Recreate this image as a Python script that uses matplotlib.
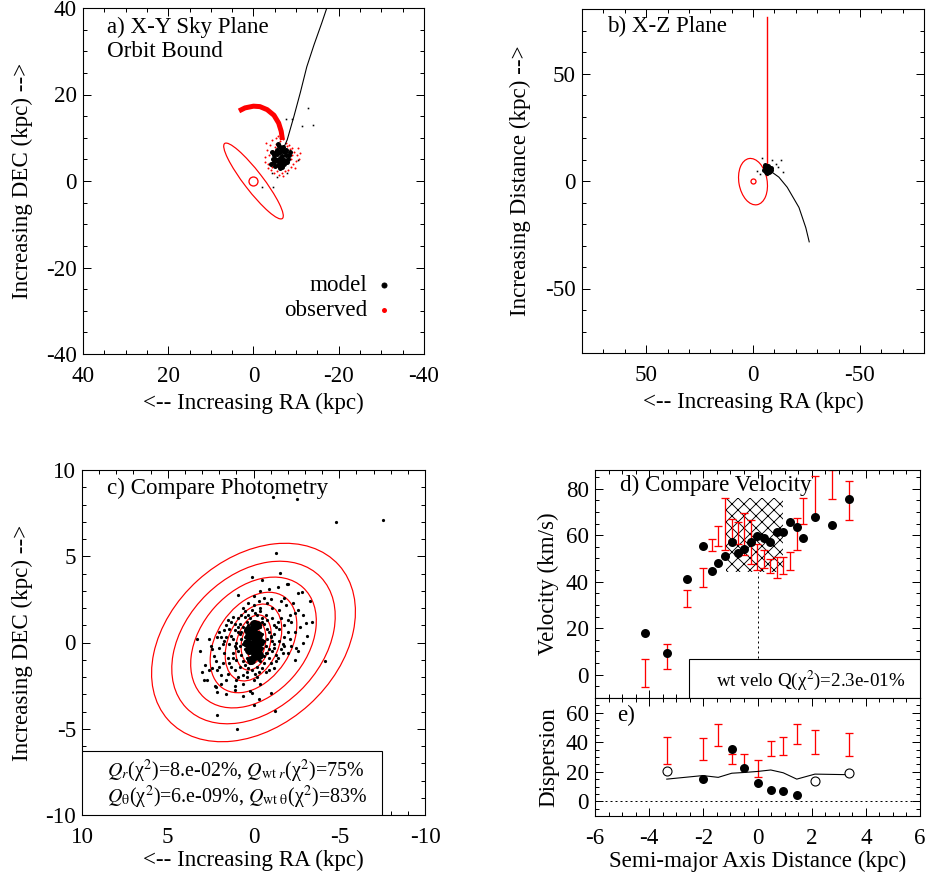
import numpy as np
import matplotlib
matplotlib.use('Agg')
import matplotlib.pyplot as plt
from matplotlib.patches import Ellipse, Rectangle
from matplotlib.ticker import MultipleLocator

plt.rcParams['font.family'] = ['Liberation Serif', 'DejaVu Serif']
plt.rcParams['mathtext.fontset'] = 'stix'
plt.rcParams['font.size'] = 23
plt.rcParams['axes.unicode_minus'] = False
plt.rcParams['hatch.linewidth'] = 0.9

# ---- a) sky plane: model particles, observed stars, orbit ----
a_model = [(-6.4, 5.6), (-5.6, 6.3), (-7.2, 4.9), (-6.0, 4.4), (-6.9, 6.9), (-5.1, 5.1),
           (-7.7, 6.0), (-6.5, 7.6), (-5.8, 3.7), (-7.1, 4.0), (-4.7, 5.9), (-8.1, 5.2),
           (-6.2, 6.7), (-5.4, 7.2), (-6.8, 3.3), (-4.9, 4.3), (-7.6, 7.1), (-5.2, 6.8),
           (-6.6, 4.6), (-5.9, 5.2), (-7.3, 6.6), (-6.3, 2.9), (-8.3, 5.9), (-4.4, 6.6),
           (-6.0, 8.2), (-7.4, 4.3), (-5.0, 3.5), (-6.7, 5.8), (-5.5, 4.8), (-7.9, 4.5),
           (-4.6, 5.0), (-6.1, 3.9), (-7.0, 7.8), (-5.7, 8.6), (-8.5, 6.8), (-4.2, 4.0)]
a_model_out = [(-12.9, 16.9), (-9.0, 14.3), (-7.6, 14.3), (-11.3, 12.7), (-14.0, 12.9),
               (-6.2, 9.9), (-10.5, 4.9), (-7.8, 1.9), (-5.4, 1.0), (-1.9, -1.5),
               (-4.6, -1.3), (-4.3, 1.8)]
a_obs = [(-2.8, 5.5), (-3.2, 7.2), (-3.5, 4.0), (-3.9, 8.3), (-4.1, 2.6), (-4.4, 9.4),
         (-4.8, 1.9), (-5.0, 7.9), (-5.3, 9.9), (-5.6, 2.3), (-5.9, 1.5), (-6.2, 9.2),
         (-6.6, 1.8), (-7.0, 9.6), (-7.3, 2.2), (-7.6, 8.9), (-8.0, 2.6), (-8.3, 8.3),
         (-8.7, 3.2), (-9.0, 7.6), (-9.3, 3.9), (-9.6, 6.8), (-9.9, 4.6), (-10.2, 5.9),
         (-10.6, 5.1), (-11.0, 6.4), (-3.6, 5.9), (-4.3, 3.3), (-4.6, 7.0), (-8.8, 5.0),
         (-9.1, 6.1), (-8.5, 7.3), (-7.9, 8.0), (-5.2, 8.6), (-4.0, 6.8), (-3.3, 3.1),
         (-10.4, 7.6), (-9.8, 3.0), (-6.9, 1.2), (-5.8, 10.3), (-3.0, 8.8), (-2.6, 4.4)]
a_orbit_x = [-7.0, -7.9, -9.5, -11.0, -12.5, -14.2, -16.0, -17.2, -18.0]
a_orbit_y = [7.5, 9.5, 15.0, 20.5, 26.4, 31.5, 36.5, 40.0, 42.0]
a_arc_x = [3.4, 2.0, 0.0, -1.5, -3.2, -4.8, -5.9, -6.5, -6.8]
a_arc_y = [16.2, 16.9, 17.3, 17.2, 16.5, 15.2, 13.4, 11.5, 9.5]
a_ell = dict(a=11.0, b=2.2, pa=52.0)

# ---- b) X-Z plane ----
b_model = [(-6.6, 5.6), (-5.4, 6.4), (-7.8, 4.8), (-6.0, 4.2), (-7.2, 7.0), (-5.0, 5.0),
           (-8.3, 6.2), (-6.5, 3.6), (-6.9, 6.4), (-5.7, 7.3), (-7.5, 4.0), (-8.6, 5.0),
           (-4.3, 10.8), (-9.0, 9.9), (-12.9, 9.6), (-10.6, 8.0), (-11.6, 6.5),
           (-14.2, 4.1), (-1.9, 4.6), (-3.5, 3.3), (-8.2, 4.1)]
b_orbit_x = [-6.6, -8.2, -12.1, -16.0, -21.5, -24.7, -26.3]
b_orbit_y = [5.5, 4.6, 1.8, -2.9, -12.3, -21.7, -28.3]
b_los_x = [-6.6, -6.6]
b_los_y = [3.0, 76.5]
b_ell = dict(a=10.9, b=6.6, pa=80.0, y0=-0.3)

# ---- c) photometry ----
c_core = [(0.0, 0.0), (0.25, 0.4), (-0.25, 0.45), (0.25, -0.45), (-0.25, -0.4),
          (0.05, 0.8), (-0.1, -0.8), (0.35, 0.0), (-0.35, 0.05), (0.15, -0.2),
          (-0.15, 0.2), (-0.2, 1.0), (0.15, -1.0), (0.3, 0.7), (-0.3, -0.7),
          (0.0, 0.5), (0.0, -0.5), (-0.05, 1.1)]
c_cloud = [(1.2, 1.5), (0.6, 2.0), (-0.3, 2.4), (-1.1, 2.0), (-1.6, 1.4), (-2.0, 0.6),
           (-1.8, -0.2), (-1.4, -0.9), (-0.9, -1.6), (-0.2, -2.0), (0.6, -1.9), (1.3, -1.4),
           (1.7, -0.6), (1.9, 0.3), (1.6, 1.0), (0.5, 1.8), (-0.7, 1.6), (-1.3, 0.9),
           (-1.5, 0.1), (-1.1, -0.5), (-0.6, -1.2), (0.3, -1.5), (1.0, -1.0), (1.4, -0.1),
           (1.1, 0.7), (2.3, -0.8), (2.6, 0.2), (2.0, 0.6), (0.3, 2.3), (-0.4, 3.0),
           (-0.9, 3.1), (-1.8, 2.6), (-2.4, 1.7), (-2.7, 0.9), (-2.5, -0.3), (-2.0, -0.6),
           (-1.2, -1.5), (-0.4, -2.4), (0.2, -2.8), (1.1, -2.5), (1.9, -1.9), (2.4, -1.5),
           (-2.3, 2.3), (-2.9, 1.6), (-3.1, 0.4), (-2.9, 0.0), (2.8, -1.3), (2.5, -0.2),
           (1.5, 1.3), (0.0, 2.7), (-1.4, 3.2), (-2.0, 3.4), (0.6, -3.1), (-0.3, -3.3),
           (1.6, -3.0), (2.2, -2.6), (0.9, 0.6), (-0.8, 0.8), (0.7, -0.7), (-0.9, -0.4),
           (1.0, 0.0), (-1.0, 0.3), (0.4, 1.2), (-0.4, -1.1), (0.6, 0.9), (-0.5, 1.2),
           (0.2, -1.2), (-0.2, 1.6), (1.3, 0.4), (-1.2, -0.1), (-3.3, 2.4), (-2.8, 2.9),
           (-3.4, 1.2), (3.1, -0.5), (2.7, -2.2), (0.9, 1.4), (-0.5, 3.6), (-1.0, -2.9),
           (0.0, -3.6), (3.3, 0.2), (0.7, 0.2), (-0.7, -0.2), (0.5, -0.4), (-0.5, 0.5),
           (0.9, -0.5), (-0.9, 0.6), (1.2, -0.6), (-1.2, 0.5), (0.8, 1.1), (-0.6, -0.8),
           (0.2, 1.4), (-0.2, -1.4), (1.5, -0.9), (-1.5, 0.8), (0.4, -0.9), (-0.4, 0.9),
           (1.1, -1.6), (-1.1, 1.4), (1.8, -1.2), (-1.8, 1.0), (2.0, -0.3), (-2.1, 0.2),
           (0.9, -2.0), (-0.8, 2.3), (1.6, 0.3), (-1.6, -0.4), (2.2, -1.1), (-2.2, 1.2),
           (0.1, 1.9), (-0.1, -1.8), (1.3, 1.2), (-1.3, -1.1), (0.6, -2.4), (-0.6, 2.6),
           (2.6, -1.6), (-2.6, 1.9), (1.9, -2.4), (-1.9, 2.2), (0.8, 0.5), (-0.8, -0.6),
           (0.5, 0.3), (-0.5, -0.3), (0.6, -0.1), (-0.6, 0.1), (0.7, 0.6), (-0.7, -0.6),
           (0.4, 0.7), (-0.4, -0.7), (0.8, -0.2), (-0.8, 0.2), (0.5, 1.5), (-0.5, -1.5),
           (0.3, 1.0), (-0.3, -1.0), (1.0, -0.3), (-1.0, 0.4), (0.6, -1.1), (-0.6, 1.1),
           (1.2, 0.2), (-1.2, -0.3), (0.9, 0.9), (-0.9, -0.9), (0.1, -1.6), (-0.1, 1.7),
           (1.4, -1.2), (-1.4, 1.2), (0.7, 1.6), (-0.7, -1.7), (1.7, 0.7), (-1.7, -0.6),
           (0.4, -2.0), (-0.4, 2.0), (2.1, -1.6), (-2.1, 1.6), (1.1, 1.1), (-1.0, -1.2),
           (0.2, 0.8), (-0.2, -0.7), (1.8, -0.1), (-1.8, 0.3),
           (1.5, -1.8), (-1.5, 1.9), (1.0, -2.2), (-1.0, 2.5), (2.0, -1.4), (-2.0, 1.3),
           (0.4, -1.7), (-0.4, 1.8), (1.2, -0.9), (-1.2, 1.0), (2.4, -0.4), (-2.4, 0.6),
           (0.8, -1.4), (-0.8, 1.3), (1.7, 0.1), (-1.7, -0.1), (0.3, 1.6), (-0.3, -1.7),
           (1.4, 0.8), (-1.3, -0.7), (2.1, 0.3), (-2.2, -0.2), (0.0, 2.2), (0.0, -2.2),
           (1.1, -0.2), (-1.1, 0.1), (0.5, -1.3), (-0.5, 1.4), (1.6, -2.2), (-1.6, 2.4)]
c_out = [(-1.15, 8.45), (-2.55, 8.3), (-4.81, 6.97), (-7.57, 7.1), (-1.31, 5.17),
         (-1.55, 4.01), (0.1, 3.82), (0.89, 2.75), (-1.94, 3.37), (-2.61, 2.85),
         (-3.06, 1.11), (-4.17, -1.07), (3.02, -1.73), (2.89, -2.17), (2.24, -2.5),
         (2.14, -2.85), (-1.25, -3.97), (2.14, -4.2), (0.94, -5.0), (0.1, -2.95),
         (1.08, -2.75), (-2.61, -0.49), (-2.42, -1.01)]
c_iso_a = [6.7, 5.45, 4.3, 3.2, 2.35, 1.64, 1.26, 0.96]
c_iso_b = [4.85, 3.9, 3.05, 2.15, 1.47, 0.97, 0.7, 0.39]
c_iso_pa = [138, 136, 132, 124, 114, 106, 100, 95]

# ---- d) velocity profile ----
d_x = [-4.15, -3.35, -2.59, -2.0, -1.68, -1.45, -1.2, -0.95, -0.73, -0.49, -0.24,
       -0.03, 0.23, 0.46, 0.71, 0.95, 1.2, 1.45, 1.67, 2.12, 2.76, 3.38]
d_model_v = [18.0, 9.2, 41.0, 55.2, 44.5, 48.0, 51.0, 56.9, 52.4, 54.2, 57.0,
             59.7, 58.7, 57.0, 61.3, 61.3, 65.6, 63.4, 58.9, 67.7, 64.4, 75.6]
d_obs_v = [0.8, 7.8, 32.9, 41.6, 55.7, 59.5, 64.7, 62.4, 61.0, 60.5, 57.2,
           50.6, 49.9, 46.8, 46.2, 46.9, 49.0, 60.4, 70.5, 77.0, 81.7, 74.9]
d_obs_err = [5.9, 5.3, 3.7, 4.1, 2.5, 4.3, 11.3, 4.7, 4.7, 9.2, 9.5,
             5.7, 3.9, 3.1, 4.5, 3.7, 3.8, 7.0, 5.6, 8.6, 6.1, 8.2]
d_hatch_x = [-1.15, 0.95]
d_hatch_v = [44.0, 76.0]

# ---- e) dispersion profile ----
e_x = [-3.35, -2.02, -1.45, -0.95, -0.5, 0.0, 0.49, 0.95, 1.45, 2.12, 3.39]
e_obs = [34.4, 35.6, 45.2, 28.8, 27.6, 22.2, 35.8, 37.6, 45.9, 40.1, 38.4]
e_obs_err = [9.3, 7.5, 7.5, 3.4, 4.5, 6.0, 4.9, 6.0, 6.8, 8.1, 8.0]
e_model_line = [15.0, 17.4, 16.2, 19.0, 19.5, 20.2, 21.2, 19.3, 15.0, 18.4, 18.0]
e_fill_x = [-2.02, -0.95, -0.5, 0.0, 0.49, 0.95, 1.45]
e_fill_y = [14.9, 35.7, 22.8, 12.6, 7.5, 6.9, 4.1]
e_open_x = [-3.35, 2.12, 3.39]
e_open_y = [20.6, 13.9, 19.4]


def style(ax, xmaj, xmin, ymaj, ymin):
    ax.xaxis.set_major_locator(MultipleLocator(xmaj))
    ax.xaxis.set_minor_locator(MultipleLocator(xmin))
    ax.yaxis.set_major_locator(MultipleLocator(ymaj))
    ax.yaxis.set_minor_locator(MultipleLocator(ymin))
    ax.tick_params(which='both', direction='in', top=True, right=True, width=1)
    ax.tick_params(which='major', length=8)
    ax.tick_params(which='minor', length=4)
    ax.tick_params(axis='x', pad=12)
    ax.tick_params(axis='y', pad=6)
    for s in ax.spines.values():
        s.set_linewidth(1.1)


def xy(pts):
    return np.array(pts).T


W, H = 930, 880
fig = plt.figure(figsize=(W / 72, H / 72), dpi=72)
ax_a = fig.add_axes([83 / W, 1 - 354 / H, 341 / W, 346 / H])
ax_b = fig.add_axes([582 / W, 1 - 353 / H, 342 / W, 344 / H])
ax_c = fig.add_axes([82 / W, 1 - 815 / H, 343 / W, 345 / H])
ax_d = fig.add_axes([595 / W, 1 - 698 / H, 325 / W, 228 / H])
ax_e = fig.add_axes([595 / W, 1 - 816 / H, 325 / W, 118 / H])

# a)
ax = ax_a
ax.plot(*xy(a_obs), 'o', color='red', ms=2, mew=0)
ax.plot(*xy(a_model), 'o', color='black', ms=5, mew=0)
ax.plot(*xy(a_model_out), 's', color='black', ms=1.6, mew=0)
ax.plot(a_orbit_x, a_orbit_y, color='black', lw=1.1)
ax.plot(a_arc_x, a_arc_y, color='red', lw=5, solid_capstyle='butt')
ax.add_patch(Ellipse((0, 0), 2 * a_ell['a'], 2 * a_ell['b'], angle=a_ell['pa'],
                     fill=False, ec='red', lw=1.2))
ax.plot([0], [0], 'o', mfc='none', mec='red', ms=9, mew=1.3)
ax.set_xlim(40, -40)
ax.set_ylim(-40, 40)
style(ax, 20, 5, 20, 5)
ax.text(0.07, 0.945, 'a) X-Y Sky Plane', transform=ax.transAxes, va='center')
ax.text(0.07, 0.873, 'Orbit Bound', transform=ax.transAxes, va='center')
ax.text(0.833, 0.199, 'model', transform=ax.transAxes, ha='right', va='center')
ax.text(0.833, 0.127, 'observed', transform=ax.transAxes, ha='right', va='center')
ax.plot([0.883], [0.199], 'o', color='black', ms=5, transform=ax.transAxes)
ax.plot([0.883], [0.127], 'o', color='red', ms=5, mew=0, transform=ax.transAxes)
ax.set_xlabel('<-- Increasing RA (kpc)')
ax.set_ylabel('Increasing DEC (kpc) -->')
ax.yaxis.set_label_coords(-0.147, 0.5)
ax.xaxis.set_label_coords(0.5, -0.113)

# b)
ax = ax_b
ax.plot(b_los_x, b_los_y, color='red', lw=1.4)
ax.plot(*xy(b_model[:12]), 'o', color='black', ms=5, mew=0)
ax.plot(*xy(b_model[12:]), 's', color='black', ms=1.6, mew=0)
ax.plot(b_orbit_x, b_orbit_y, color='black', lw=1.1)
ax.add_patch(Ellipse((0, b_ell['y0']), 2 * b_ell['a'], 2 * b_ell['b'], angle=b_ell['pa'],
                     fill=False, ec='red', lw=1.2))
ax.plot([0], [0], 'o', mfc='none', mec='red', ms=5, mew=1.3)
ax.set_xlim(80, -80)
ax.set_ylim(-80, 80)
style(ax, 50, 10, 50, 10)
ax.text(0.073, 0.948, 'b) X-Z Plane', transform=ax.transAxes, va='center')
ax.set_xlabel('<-- Increasing RA (kpc)')
ax.set_ylabel('Increasing Distance (kpc) -->')
ax.yaxis.set_label_coords(-0.149, 0.5)
ax.xaxis.set_label_coords(0.5, -0.113)

# c)
ax = ax_c
ax.plot(*xy(c_cloud), 'o', color='black', ms=3.2, mew=0)
ax.plot(*xy(c_out), 'o', color='black', ms=3.2, mew=0)
ax.plot(*xy(c_core), 'o', color='black', ms=9, mew=0)
for a_, b_, pa in zip(c_iso_a, c_iso_b, c_iso_pa):
    ax.add_patch(Ellipse((0, 0), 2 * a_, 2 * b_, angle=pa, fill=False, ec='red', lw=1.2))
ax.set_xlim(10, -10)
ax.set_ylim(-10, 10)
style(ax, 5, 1, 5, 1)
ax.text(0.073, 0.948, 'c) Compare Photometry', transform=ax.transAxes, va='center')
ax.add_patch(Rectangle((0, 0), 0.875, 0.186, transform=ax.transAxes,
                       fc='white', ec='black', lw=1.1, zorder=4))
ax.text(0.073, 0.125, r'$Q_r$(χ$^2$)=8.e-02%, $Q_{\mathrm{wt}\ r}$(χ$^2$)=75%',
        transform=ax.transAxes, va='center', fontsize=20, zorder=5)
ax.text(0.073, 0.052, r'$Q_{\mathrm{\theta}}$(χ$^2$)=6.e-09%, $Q_{\mathrm{wt\ \theta}}$(χ$^2$)=83%',
        transform=ax.transAxes, va='center', fontsize=20, zorder=5)
ax.set_xlabel('<-- Increasing RA (kpc)')
ax.set_ylabel('Increasing DEC (kpc) -->')
ax.yaxis.set_label_coords(-0.143, 0.5)
ax.xaxis.set_label_coords(0.5, -0.101)

# d)
ax = ax_d
ax.add_patch(Rectangle((d_hatch_x[0], d_hatch_v[0]), d_hatch_x[1] - d_hatch_x[0],
                       d_hatch_v[1] - d_hatch_v[0], fill=False, hatch='xx',
                       ec='black', lw=0))
ax.plot([0, 0], [-10, d_hatch_v[0]], color='black', lw=1, ls=(0, (2, 3)))
ax.errorbar(d_x, d_obs_v, yerr=d_obs_err, fmt='none', ecolor='red',
            elinewidth=1.3, capsize=4, capthick=1.3)
ax.plot(d_x, d_model_v, 'o', color='black', ms=9, mew=0, zorder=3)
ax.set_xlim(-6, 6)
ax.set_ylim(-10, 88)
style(ax, 2, 0.5, 20, 5)
ax.tick_params(axis='x', labelbottom=False)
ax.text(0.077, 0.934, 'd) Compare Velocity', transform=ax.transAxes, va='center')
ax.add_patch(Rectangle((0.289, 0), 0.711, 0.171, transform=ax.transAxes,
                       fc='white', ec='black', lw=1.1, zorder=4))
ax.text(0.371, 0.079, 'wt velo Q(χ$^2$)=2.3e-01%', transform=ax.transAxes,
        va='center', fontsize=19, zorder=5)
ax.set_ylabel('Velocity (km/s)')
ax.yaxis.set_label_coords(-0.111, 0.5)

# e)
ax = ax_e
ax.axhline(0, color='black', lw=1, ls=(0, (2, 3)))
ax.errorbar(e_x, e_obs, yerr=e_obs_err, fmt='none', ecolor='red',
            elinewidth=1.3, capsize=4, capthick=1.3)
ax.plot(e_x, e_model_line, color='black', lw=1.1)
ax.plot(e_fill_x, e_fill_y, 'o', color='black', ms=9, mew=0, zorder=3)
ax.plot(e_open_x, e_open_y, 'o', mfc='white', mec='black', ms=9, mew=1.1, zorder=3)
ax.set_xlim(-6, 6)
ax.set_ylim(-10, 70)
style(ax, 2, 0.5, 20, 5)
ax.text(0.068, 0.856, 'e)', transform=ax.transAxes, va='center')
ax.set_xlabel('Semi-major Axis Distance (kpc)')
ax.set_ylabel('Dispersion')
ax.yaxis.set_label_coords(-0.111, 0.5)
ax.xaxis.set_label_coords(0.5, -0.297)

fig.savefig('out.png', dpi=72)
